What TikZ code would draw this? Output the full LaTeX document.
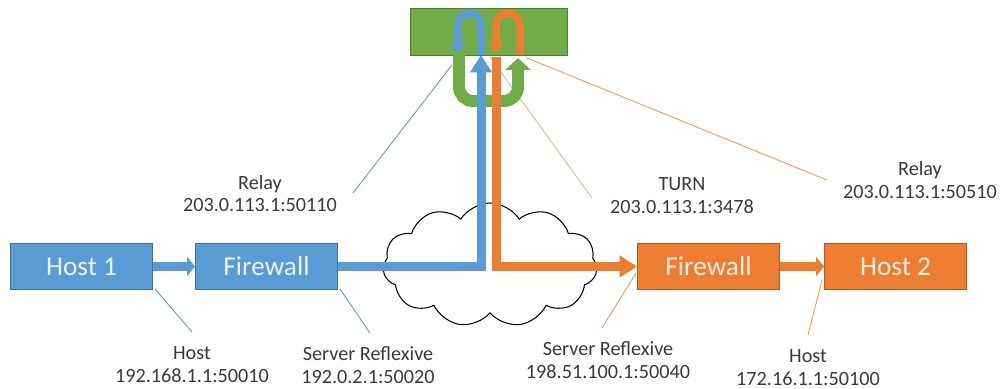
\documentclass[tikz,border=0pt]{standalone}
\usepackage{fontspec}
\setmainfont{Carlito}
\usetikzlibrary{arrows.meta,shapes.symbols}
\definecolor{hostblue}{HTML}{5B9BD5}
\definecolor{hostblueline}{HTML}{41719C}
\definecolor{hostorange}{HTML}{ED7D31}
\definecolor{hostorangeline}{HTML}{AE5A21}
\definecolor{turngreen}{HTML}{70AD47}
\definecolor{turngreenline}{HTML}{507E32}
\definecolor{leadgreen}{HTML}{A9D18E}
\definecolor{labelgray}{HTML}{3A3A3A}
\tikzset{
	hostbox/.style={minimum width=28.4mm, minimum height=9.2mm, inner sep=0pt, line width=0.5pt, font=\fontsize{15.5}{18}\selectfont},
	bluebox/.style={hostbox, draw=hostblueline, fill=hostblue, text=hostblue!12},
	orangebox/.style={hostbox, draw=hostorangeline, fill=hostorange, text=hostorange!12},
	addr/.style={align=center, text=labelgray, inner sep=0pt, font=\fontsize{11.5}{13}\selectfont},
	lead/.style={line width=0.5pt},
	smallarrow/.style={line width=1.7mm, -{Triangle[length=1.6mm, width=3.8mm]}},
	bigarrow/.style={line width=1.8mm, -{Triangle[length=3.5mm, width=4.2mm]}},
	uturn/.style={line width=1.5mm, -{Triangle[length=2mm, width=3mm]}}
}
\begin{document}
\begin{tikzpicture}[x=0.2mm, y=-0.2mm]
	\useasboundingbox (0,0) rectangle (1000,389);
	%cloud
	\node[cloud, draw, fill=white, line width=0.6pt, cloud puffs=11, cloud puff arc=115, aspect=1.75, minimum width=42.8mm, minimum height=24.8mm, inner sep=0pt] (net) at (490,265) {};
	%hosts and firewalls
	\node[bluebox] (h1) at (81.5,266.5) {Host 1};
	\node[bluebox] (fw1) at (266.5,266.5) {Firewall};
	\node[orangebox] (fw2) at (708.5,266.5) {Firewall};
	\node[orangebox] (h2) at (895.5,266.5) {Host 2};
	\draw[smallarrow, hostblue] (h1.east) -- (fw1.west);
	\draw[smallarrow, hostorange] (fw2.east) -- (h2.west);
	%TURN server
	\node[draw=turngreenline, fill=turngreen, line width=0.5pt, minimum width=31.4mm, minimum height=9.4mm, inner sep=0pt] (turn) at (488.5,31.5) {};
	%labels
	\node[addr] (relay1) at (260,193.5) {Relay\\203.0.113.1:50110};
	\node[addr] (turnlbl) at (682,195.5) {TURN\\203.0.113.1:3478};
	\node[addr] (relay2) at (920,180) {Relay\\203.0.113.1:50510};
	\node[addr] (host1lbl) at (192,364.5) {Host\\192.168.1.1:50010};
	\node[addr] (srflx1) at (368,365) {Server Reflexive\\192.0.2.1:50020};
	\node[addr] (srflx2) at (608,360.5) {Server Reflexive\\198.51.100.1:50040};
	\node[addr] (host2lbl) at (808,367.5) {Host\\172.16.1.1:50100};
	%leaders
	\coordinate (r1a) at (452,65);   \coordinate (r1b) at (353,193);
	\coordinate (ta) at (490,57);    \coordinate (tb) at (592,198);
	\coordinate (r2a) at (527,58);   \coordinate (r2b) at (827,180);
	\coordinate (h1a) at (155,289);  \coordinate (h1b) at (192,332);
	\coordinate (s1a) at (340,289);  \coordinate (s1b) at (370,333);
	\coordinate (s2a) at (636,273);  \coordinate (s2b) at (602,328);
	\coordinate (h2a) at (822,280);  \coordinate (h2b) at (808,335);
	\draw[lead, hostblue] (r1a) -- (r1b);
	\draw[lead, leadgreen] (ta) -- (tb);
	\draw[lead, hostorange!80] (r2a) -- (r2b);
	\draw[lead, hostblue] (h1a) -- (h1b);
	\draw[lead, hostblue] (s1a) -- (s1b);
	\draw[lead, hostorange!80] (s2a) -- (s2b);
	\draw[lead, hostorange!80] (h2a) -- (h2b);
	%green U
	\draw[turngreen, line width=2.4mm, rounded corners=2.8mm, -{Triangle[length=2.4mm, width=5mm]}] (459,55) -- (459,101) -- (518,101) -- (518,58);
	%media paths
	\coordinate (blueup) at (481,55);
	\coordinate (orangedown) at (496,57);
	\draw[bigarrow, hostblue] (fw1.east) -| (blueup);
	\draw[bigarrow, hostorange] (orangedown) |- (fw2.west);
	%U-turns in the TURN server
	\draw[uturn, hostblue] (481,55) -- (481,25) arc[start angle=0, end angle=-180, radius=11.5] -- (458,53);
	\draw[uturn, hostorange] (520,55) -- (520,25) arc[start angle=0, end angle=-180, radius=12] -- (496,53);
\end{tikzpicture}
\end{document}
